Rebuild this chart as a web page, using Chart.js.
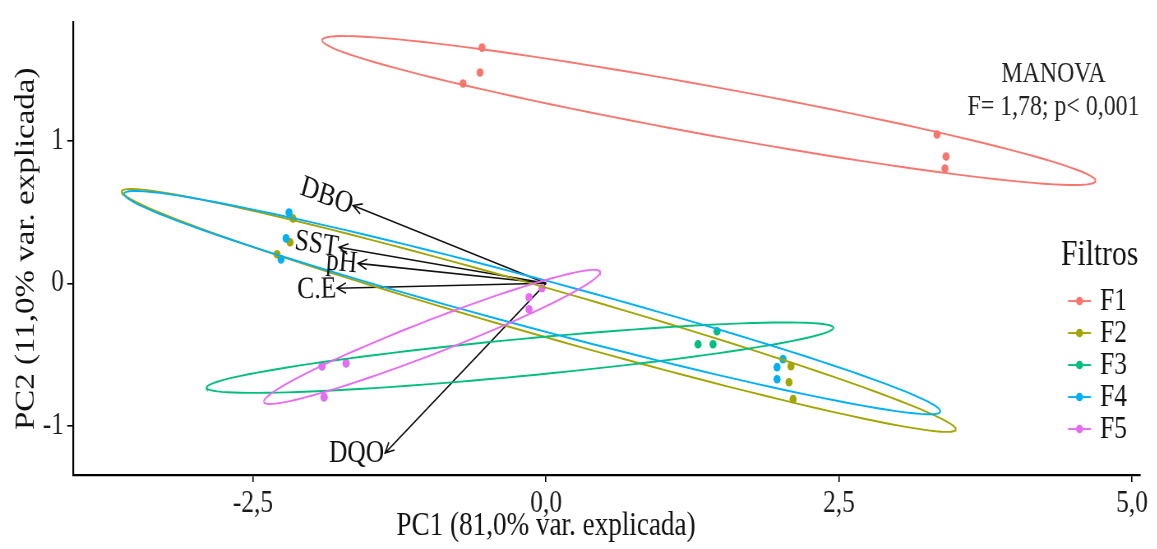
<!DOCTYPE html>
<html lang="es">
<head>
<meta charset="UTF-8">
<title>PCA - Filtros</title>
<script src="https://cdn.jsdelivr.net/npm/chart.js"></script>
<style>
    html, body {
        margin: 0;
        padding: 0;
        background: #fff;
        overflow: hidden;
    }
    #wrap {
        height: 549px;
        transform-origin: 0 0;
    }
</style>
</head>
<body>
<div id="wrap"><canvas id="pcaChart"></canvas></div>
<script>
    // Group scores (PC1, PC2)
    const groups = ['F1', 'F2', 'F3', 'F4', 'F5'];
    const f1PC1 = [-0.546, -0.563, -0.708, 3.336, 3.413, 3.404];
    const f1PC2 = [1.656, 1.481, 1.404, 1.046, 0.891, 0.807];
    const f2PC1 = [-2.159, -2.184, -2.295, 2.090, 2.073, 2.108];
    const f2PC2 = [0.456, 0.288, 0.204, -0.582, -0.695, -0.814];
    const f3PC1 = [-1.911, -1.706, -1.894, 1.459, 1.297, 1.425];
    const f3PC2 = [-0.582, -0.561, -0.800, -0.337, -0.428, -0.428];
    const f4PC1 = [-2.193, -2.218, -2.261, 2.022, 1.971, 1.971];
    const f4PC2 = [0.498, 0.316, 0.168, -0.533, -0.589, -0.674];
    const f5PC1 = [-1.911, -1.706, -1.894, -0.034, -0.145, -0.145];
    const f5PC2 = [-0.582, -0.561, -0.800, -0.035, -0.098, -0.182];

    // Variable loadings (arrows)
    const variables = ['DBO', 'SST', 'pH', 'C.E', 'DQO'];
    const loadPC1 = [-1.647, -1.766, -1.604, -1.783, -1.374];
    const loadPC2 = [0.547, 0.253, 0.140, -0.035, -1.193];

    const xTicks = [-2.5, 0, 2.5, 5];
    const yTicks = [-1, 0, 1];
    const xTitle = 'PC1 (81,0% var. explicada)';
    const yTitle = 'PC2 (11,0% var. explicada)';
    const manovaLines = ['MANOVA', 'F= 1,78; p< 0,001'];
    const ellipseProb = 0.68;

    const groupPC1 = [f1PC1, f2PC1, f3PC1, f4PC1, f5PC1];
    const groupPC2 = [f1PC2, f2PC2, f3PC2, f4PC2, f5PC2];
    const groupColors = ['#F8766D', '#A3A500', '#00BF7D', '#00B0F6', '#E76BF3'];
    const labelAngles = [18, 8, 5, -1, 0]; // degrees, clockwise
    const FONT = '"Liberation Serif", "Times New Roman", serif';

    // the original figure is squeezed horizontally; reproduce it
    const SQUEEZE = 0.822;
    const W = Math.round(1157 / SQUEEZE);
    const sx = v => v / SQUEEZE;
    const wrap = document.getElementById('wrap');
    wrap.style.width = W + 'px';
    wrap.style.transform = 'scaleX(' + SQUEEZE + ')';

    // ggbiplot style concentration ellipse
    function ellipsePoints(xs, ys, prob) {
        const n = xs.length;
        const mx = xs.reduce((a, b) => a + b, 0) / n;
        const my = ys.reduce((a, b) => a + b, 0) / n;
        let sxx = 0, syy = 0, sxy = 0;
        for (let i = 0; i < n; i++) {
            const dx = xs[i] - mx, dy = ys[i] - my;
            sxx += dx * dx; syy += dy * dy; sxy += dx * dy;
        }
        sxx /= n - 1; syy /= n - 1; sxy /= n - 1;
        const r11 = Math.sqrt(sxx);
        const r12 = sxy / r11;
        const r22 = Math.sqrt(Math.max(syy - r12 * r12, 0));
        const ed = Math.sqrt(-2 * Math.log(1 - prob));
        const pts = [];
        for (let k = 0; k <= 120; k++) {
            const t = -Math.PI + 2 * Math.PI * k / 120;
            const c = Math.cos(t), s = Math.sin(t);
            pts.push({ x: mx + ed * c * r11, y: my + ed * (c * r12 + s * r22) });
        }
        return pts;
    }

    const datasets = [];
    groups.forEach((g, gi) => {
        datasets.push({
            label: g,
            data: groupPC1[gi].map((x, i) => ({ x: x, y: groupPC2[gi][i] })),
            backgroundColor: groupColors[gi],
            borderColor: groupColors[gi],
            pointRadius: 4.3,
            pointBorderWidth: 0,
            showLine: false,
            order: 10 - gi
        });
    });
    groups.forEach((g, gi) => {
        datasets.push({
            label: g + ' ellipse',
            data: ellipsePoints(groupPC1[gi], groupPC2[gi], ellipseProb),
            borderColor: groupColors[gi],
            borderWidth: 1.9,
            pointRadius: 0,
            showLine: true,
            fill: false,
            tension: 0,
            order: 5 - gi
        });
    });

    const biplotExtras = {
        id: 'biplotExtras',
        beforeDatasetsDraw(chart) {
            const { ctx, scales: { x, y } } = chart;
            const ox = x.getPixelForValue(0), oy = y.getPixelForValue(0);
            ctx.save();
            ctx.strokeStyle = '#111';
            ctx.lineWidth = 1.6;
            variables.forEach((v, i) => {
                const tx = x.getPixelForValue(loadPC1[i]);
                const ty = y.getPixelForValue(loadPC2[i]);
                ctx.beginPath();
                ctx.moveTo(ox, oy);
                ctx.lineTo(tx, ty);
                const a = Math.atan2(ty - oy, tx - ox);
                const len = 12;
                ctx.moveTo(tx - len * Math.cos(a - 0.45), ty - len * Math.sin(a - 0.45));
                ctx.lineTo(tx, ty);
                ctx.lineTo(tx - len * Math.cos(a + 0.45), ty - len * Math.sin(a + 0.45));
                ctx.stroke();
            });
            ctx.restore();
        },
        afterDatasetsDraw(chart) {
            const { ctx, scales: { x, y } } = chart;
            ctx.save();
            // arrow labels
            ctx.fillStyle = '#111';
            ctx.font = '31px ' + FONT;
            ctx.textAlign = 'right';
            ctx.textBaseline = 'middle';
            variables.forEach((v, i) => {
                const tx = x.getPixelForValue(loadPC1[i]);
                const ty = y.getPixelForValue(loadPC2[i]);
                ctx.save();
                ctx.translate(tx - 1, ty + 1);
                ctx.rotate(labelAngles[i] * Math.PI / 180);
                ctx.fillText(v, 0, 0);
                ctx.restore();
            });

            // MANOVA annotation
            ctx.fillStyle = '#222';
            ctx.font = '29px ' + FONT;
            ctx.textAlign = 'center';
            const mx = x.getPixelForValue(4.33);
            ctx.fillText(manovaLines[0], mx, y.getPixelForValue(1.467));
            ctx.fillText(manovaLines[1], mx, y.getPixelForValue(1.235));

            // x axis title, centred like the original
            ctx.fillStyle = '#111';
            ctx.font = '33px ' + FONT;
            ctx.fillText(xTitle, x.getPixelForValue(0), 526);

            // legend
            ctx.textAlign = 'left';
            ctx.font = '36px ' + FONT;
            ctx.fillText('Filtros', sx(1061), 256);
            ctx.font = '31px ' + FONT;
            groups.forEach((g, gi) => {
                const yy = 301 + gi * 32;
                ctx.strokeStyle = groupColors[gi];
                ctx.fillStyle = groupColors[gi];
                ctx.lineWidth = 1.9;
                ctx.beginPath();
                ctx.moveTo(sx(1068), yy);
                ctx.lineTo(sx(1091), yy);
                ctx.stroke();
                ctx.beginPath();
                ctx.arc(sx(1079.5), yy, 4.3, 0, Math.PI * 2);
                ctx.fill();
                ctx.fillStyle = '#111';
                ctx.fillText(g, sx(1100), yy + 1);
            });
            ctx.restore();
        }
    };

    const fmtComma = (v, d) => v.toFixed(d).replace('.', ',');

    new Chart(document.getElementById('pcaChart'), {
        type: 'scatter',
        data: { datasets: datasets },
        options: {
            responsive: true,
            maintainAspectRatio: false,
            animation: false,
            layout: {
                padding: { top: 22, right: W - sx(1140), bottom: 0, left: 0 }
            },
            plugins: {
                legend: { display: false },
                tooltip: { enabled: false }
            },
            scales: {
                x: {
                    type: 'linear',
                    min: -4.036,
                    max: 5.068,
                    afterBuildTicks: s => { s.ticks = xTicks.map(v => ({ value: v })); },
                    afterFit: s => { s.height = 74; },
                    grid: { drawOnChartArea: false, drawTicks: true, tickLength: 7, color: '#000', lineWidth: 1.6 },
                    border: { display: true, color: '#000', width: 2.2 },
                    ticks: {
                        color: '#1a1a1a',
                        font: { family: FONT, size: 31 },
                        padding: 3,
                        maxRotation: 0,
                        callback: v => fmtComma(v, 1)
                    },
                    title: { display: false }
                },
                y: {
                    type: 'linear',
                    min: -1.347,
                    max: 1.832,
                    afterBuildTicks: s => { s.ticks = yTicks.map(v => ({ value: v })); },
                    afterFit: s => { s.width = sx(73); },
                    grid: { drawOnChartArea: false, drawTicks: true, tickLength: 7, color: '#000', lineWidth: 1.6 },
                    border: { display: true, color: '#000', width: 2.2 },
                    ticks: {
                        color: '#1a1a1a',
                        font: { family: FONT, size: 31 },
                        padding: 4,
                        callback: v => fmtComma(v, 0)
                    },
                    title: {
                        display: true,
                        text: yTitle,
                        color: '#111',
                        font: { family: FONT, size: 33 },
                        padding: { top: 13, bottom: 0 }
                    }
                }
            }
        },
        plugins: [biplotExtras]
    });
</script>
</body>
</html>
